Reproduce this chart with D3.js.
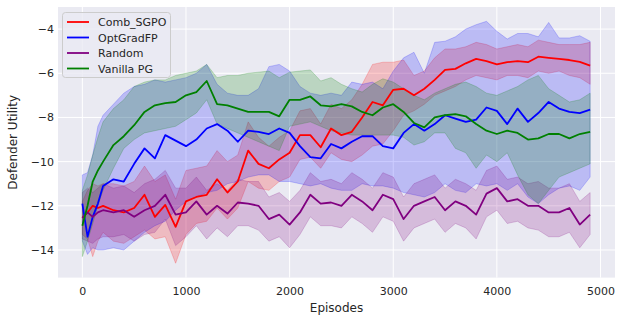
<!DOCTYPE html>
<html><head><meta charset="utf-8">
<script src="https://cdn.jsdelivr.net/npm/d3@7"></script>
<style>body{margin:0;background:#fff}svg{display:block}</style>
</head><body><svg id="c" width="622" height="322"></svg>
<script>
const episodes = [0,50,100,150,200,300,400,500,600,700,800,900,1000,1100,1200,1300,1400,1500,1600,1700,1800,1900,2000,2100,2200,2300,2400,2500,2600,2700,2800,2900,3000,3100,3200,3300,3400,3500,3600,3700,3800,3900,4000,4100,4200,4300,4400,4500,4600,4700,4800,4900];
const seriesNames = ["Comb_SGPO","OptGradFP","Random","Vanilla PG"];
const seriesColors = ["#ff0000","#0000ff","#800080","#008000"];

const combMean = [-12.55,-12.3,-12.0,-12.1,-12.0,-12.2,-12.3,-12.1,-11.5,-12.5,-11.96,-12.95,-11.8,-11.6,-11.5,-10.8,-11.4,-10.9,-9.5,-10.1,-10.3,-9.9,-9.6,-8.8,-8.8,-9.35,-8.5,-8.8,-8.65,-8.0,-7.3,-7.45,-6.75,-6.7,-7.0,-6.7,-6.3,-5.85,-5.8,-5.55,-5.35,-5.45,-5.6,-5.5,-5.45,-5.5,-5.25,-5.3,-5.35,-5.4,-5.48,-5.65];
const combLo = [-13.3,-13.5,-14.3,-13.6,-13.2,-13.6,-13.7,-13.4,-13.1,-13.5,-13.4,-14.6,-13.3,-12.8,-12.7,-12.1,-12.6,-12.1,-10.9,-11.2,-11.3,-10.9,-10.7,-9.9,-9.8,-10.3,-9.6,-9.9,-10.0,-9.7,-9.3,-9.2,-8.6,-7.9,-7.7,-7.4,-7.0,-6.8,-6.6,-6.3,-6.1,-6.2,-6.3,-6.1,-6.1,-6.2,-5.9,-6.0,-5.9,-6.1,-6.2,-6.5];
const combHi = [-11.8,-11.3,-11.0,-11.1,-11.0,-11.0,-11.1,-10.9,-10.2,-10.9,-10.6,-11.7,-10.4,-10.3,-10.2,-9.5,-10.0,-9.7,-8.2,-8.9,-9.3,-8.9,-8.6,-7.7,-7.6,-8.3,-7.4,-7.6,-7.2,-6.5,-5.6,-5.5,-5.5,-5.4,-6.1,-5.9,-5.3,-4.9,-4.9,-4.8,-4.6,-4.7,-4.9,-4.8,-4.7,-4.8,-4.5,-4.6,-4.7,-4.7,-4.7,-4.6];

const optMean = [-11.9,-13.4,-12.5,-11.9,-11.1,-10.8,-10.9,-10.1,-9.4,-9.85,-8.8,-9.05,-9.3,-9.0,-8.5,-8.3,-8.6,-9.1,-8.6,-8.65,-8.75,-8.5,-8.7,-9.3,-9.8,-9.85,-9.2,-9.4,-9.1,-8.85,-8.85,-9.3,-9.4,-8.7,-8.3,-8.6,-8.3,-7.9,-8.05,-8.2,-8.1,-7.55,-7.7,-8.3,-7.6,-8.2,-7.8,-7.3,-7.6,-7.75,-7.8,-7.65];
const optLo = [-13.6,-14.2,-13.9,-14.0,-14.0,-13.9,-14.0,-13.6,-13.2,-12.9,-12.7,-12.2,-11.8,-11.6,-11.4,-11.3,-11.0,-10.9,-10.7,-10.6,-10.6,-10.9,-10.9,-11.0,-11.1,-11.0,-11.2,-11.3,-11.3,-11.0,-11.1,-11.1,-11.2,-11.4,-11.5,-11.6,-11.4,-11.0,-11.3,-11.4,-11.0,-11.1,-11.0,-11.3,-11.0,-11.6,-11.9,-11.5,-11.2,-11.1,-11.3,-10.7];
const optHi = [-10.6,-10.5,-9.7,-8.4,-7.9,-7.4,-6.9,-6.6,-6.5,-6.3,-6.4,-6.3,-6.2,-6.0,-5.6,-6.5,-6.9,-7.0,-7.0,-6.7,-5.7,-5.6,-5.9,-6.6,-6.9,-7.0,-6.9,-7.0,-6.4,-6.5,-6.4,-6.7,-5.9,-5.3,-5.05,-6.0,-4.6,-4.55,-4.35,-4.0,-3.8,-3.65,-4.1,-4.45,-4.2,-4.2,-4.35,-3.7,-4.4,-4.4,-4.3,-4.55];

const randMean = [-12.55,-12.3,-12.5,-12.3,-12.2,-12.3,-12.2,-12.5,-12.2,-12.0,-11.5,-12.4,-12.3,-11.8,-12.4,-12.0,-12.35,-11.85,-11.9,-12.0,-12.6,-12.4,-12.85,-12.3,-11.5,-11.9,-11.85,-12.0,-11.5,-11.8,-12.2,-11.5,-11.7,-12.6,-12.0,-11.8,-11.6,-12.2,-11.8,-12.0,-12.4,-11.45,-11.2,-11.8,-11.7,-12.0,-12.0,-12.3,-12.3,-12.1,-12.85,-12.4];
const randLo = [-13.5,-13.6,-13.7,-13.5,-13.4,-13.4,-13.3,-13.6,-13.3,-13.2,-12.6,-13.8,-13.4,-12.9,-13.5,-13.0,-13.4,-12.9,-12.9,-13.1,-13.6,-13.4,-13.9,-13.3,-12.5,-12.9,-12.9,-13.0,-12.5,-12.8,-13.2,-12.5,-12.7,-13.6,-13.0,-12.8,-12.6,-13.2,-12.8,-13.0,-13.5,-12.5,-12.2,-12.8,-12.7,-13.0,-13.1,-13.4,-13.4,-13.2,-13.9,-13.3];
const randHi = [-11.4,-11.2,-11.4,-11.2,-11.0,-11.2,-11.1,-11.4,-11.0,-10.8,-10.4,-11.2,-11.2,-10.7,-11.3,-11.0,-11.3,-10.8,-10.9,-10.9,-11.6,-11.4,-11.8,-11.3,-10.5,-10.9,-10.8,-11.0,-10.5,-10.8,-11.2,-10.5,-10.7,-11.6,-11.0,-10.8,-10.6,-11.2,-10.8,-11.0,-11.3,-10.4,-10.2,-10.8,-10.7,-11.0,-10.9,-11.2,-11.2,-11.0,-11.8,-11.4];

const vanMean = [-12.9,-12.0,-10.9,-10.4,-10.0,-9.25,-8.85,-8.35,-7.75,-7.45,-7.35,-7.3,-7.0,-6.85,-6.35,-7.4,-7.45,-7.6,-7.75,-7.75,-7.75,-7.95,-7.2,-7.2,-7.05,-7.45,-7.5,-7.4,-7.5,-7.75,-7.9,-7.55,-7.4,-7.75,-8.25,-8.45,-8.0,-7.9,-7.85,-7.95,-8.3,-8.6,-8.75,-8.6,-8.7,-9.0,-8.95,-8.75,-8.75,-8.95,-8.75,-8.65];
const vanLo = [-14.3,-13.6,-12.8,-12.0,-11.3,-10.3,-9.4,-9.0,-8.7,-8.6,-8.5,-8.4,-8.1,-7.8,-7.2,-8.3,-8.5,-8.7,-8.9,-9.1,-9.3,-9.5,-8.4,-8.3,-8.2,-8.4,-8.6,-8.7,-8.8,-8.8,-8.8,-8.8,-8.8,-8.9,-9.25,-9.1,-8.7,-8.7,-9.4,-9.6,-10.3,-9.7,-10.0,-9.6,-10.6,-11.5,-11.9,-11.3,-10.7,-10.5,-10.3,-10.1];
const vanHi = [-11.3,-10.6,-9.7,-8.9,-8.2,-7.6,-7.2,-6.6,-6.4,-6.3,-6.3,-6.1,-6.0,-5.9,-5.6,-6.2,-6.1,-6.1,-6.0,-5.95,-5.9,-6.2,-5.95,-5.9,-5.85,-6.35,-6.2,-6.5,-6.7,-6.85,-6.5,-6.25,-6.4,-6.7,-7.0,-7.2,-6.9,-6.7,-6.5,-6.4,-6.6,-6.9,-7.0,-6.8,-6.6,-6.3,-6.1,-6.7,-7.0,-7.3,-7.2,-6.9];

const xTicks = [0,1000,2000,3000,4000,5000];
const yTicks = [-14,-12,-10,-8,-6,-4];

const means = [combMean, optMean, randMean, vanMean];
const los = [combLo, optLo, randLo, vanLo];
const his = [combHi, optHi, randHi, vanHi];

const svg = d3.select("#c");
const L = 58, R = 615, T = 7, B = 277.6;
const x = d3.scaleLinear().domain([-235, 5140]).range([L, R]);
const y = d3.scaleLinear().domain([-15.25, -3.0]).range([B, T]);

svg.append("rect").attr("x", L).attr("y", T).attr("width", R - L).attr("height", B - T).attr("fill", "#EAEAF2");
svg.append("clipPath").attr("id", "clip").append("rect").attr("x", L).attr("y", T).attr("width", R - L).attr("height", B - T);

const grid = svg.append("g");
xTicks.forEach(t => grid.append("line").attr("x1", x(t)).attr("x2", x(t)).attr("y1", T).attr("y2", B).attr("stroke", "#fff").attr("stroke-width", 1));
yTicks.forEach(t => grid.append("line").attr("x1", L).attr("x2", R).attr("y1", y(t)).attr("y2", y(t)).attr("stroke", "#fff").attr("stroke-width", 1));

const fmt = v => (v < 0 ? "\u2212" + Math.abs(v) : String(v));
const xAxis = d3.axisBottom(x).tickValues(xTicks).tickSize(0).tickPadding(10).tickFormat(fmt);
const yAxis = d3.axisLeft(y).tickValues(yTicks).tickSize(0).tickPadding(4).tickFormat(fmt);
const gx = svg.append("g").attr("transform", `translate(0,${B})`).call(xAxis);
const gy = svg.append("g").attr("transform", `translate(${L},0)`).call(yAxis);
[gx, gy].forEach(g => {
  g.select(".domain").remove();
  g.selectAll("text").attr("fill", "#262626").style("font-family", "DejaVu Sans").style("font-size", "11px");
});

const plot = svg.append("g").attr("clip-path", "url(#clip)");
means.forEach((m, i) => {
  const area = d3.area().x((d, j) => x(episodes[j])).y0((d, j) => y(los[i][j])).y1((d, j) => y(his[i][j]));
  plot.append("path").datum(m).attr("d", area)
    .attr("fill", seriesColors[i]).attr("fill-opacity", 0.2)
    .attr("stroke", seriesColors[i]).attr("stroke-opacity", 0.2).attr("stroke-width", 1);
});
means.forEach((m, i) => {
  const line = d3.line().x((d, j) => x(episodes[j])).y(d => y(d));
  plot.append("path").datum(m).attr("d", line).attr("fill", "none")
    .attr("stroke", seriesColors[i]).attr("stroke-width", 1.8).attr("stroke-linejoin", "round");
});

svg.append("text").attr("x", (L + R) / 2).attr("y", 312).attr("text-anchor", "middle")
  .attr("fill", "#262626").style("font-family", "DejaVu Sans").style("font-size", "12px").text("Episodes");
svg.append("text").attr("transform", `translate(17,${(T + B) / 2}) rotate(-90)`).attr("text-anchor", "middle")
  .attr("fill", "#262626").style("font-family", "DejaVu Sans").style("font-size", "12px").text("Defender Utility");

const lg = svg.append("g");
lg.append("rect").attr("x", 62.5).attr("y", 12.5).attr("width", 108).attr("height", 65).attr("rx", 3)
  .attr("fill", "#EAEAF2").attr("fill-opacity", 0.8).attr("stroke", "#cccccc").attr("stroke-width", 1);
seriesNames.forEach((n, i) => {
  const yy = 22 + i * 15.5;
  lg.append("line").attr("x1", 67).attr("x2", 89).attr("y1", yy).attr("y2", yy)
    .attr("stroke", seriesColors[i]).attr("stroke-width", 1.8);
  lg.append("text").attr("x", 98).attr("y", yy + 4).attr("fill", "#262626")
    .style("font-family", "DejaVu Sans").style("font-size", "11px").text(n);
});
</script></body></html>
